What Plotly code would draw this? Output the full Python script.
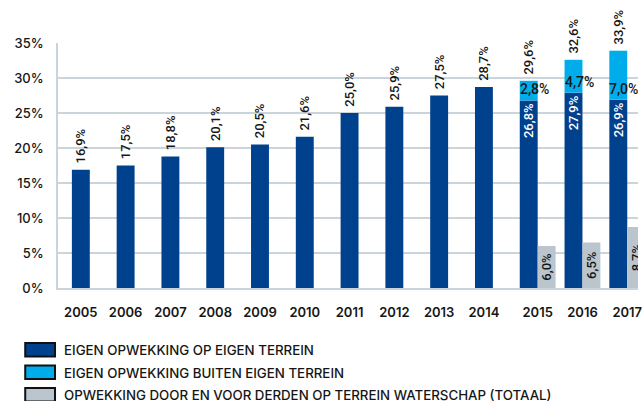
import plotly.graph_objects as go

years = [2005, 2006, 2007, 2008, 2009, 2010, 2011, 2012, 2013, 2014, 2015, 2016, 2017]
eigen_op = [16.9, 17.5, 18.8, 20.1, 20.5, 21.6, 25.0, 25.9, 27.5, 28.7, 26.8, 27.9, 26.9]
split_years = [2015, 2016, 2017]
eigen_buiten = [2.8, 4.7, 7.0]
totaal = [29.6, 32.6, 33.9]
derden = [6.0, 6.5, 8.7]
series_names = [
    "EIGEN OPWEKKING OP EIGEN TERREIN",
    "EIGEN OPWEKKING BUITEN EIGEN TERREIN",
    "OPWEKKING DOOR EN VOOR DERDEN OP TERREIN WATERSCHAP (TOTAAL)",
]
y_ticks = [0, 5, 10, 15, 20, 25, 30, 35]

DARK = "#00418E"
LIGHT = "#00ADEA"
GRAY = "#BAC5CD"
GRID = "#CCD4DB"
TXT = "#161616"
LABEL_FONT = "Roboto"
AXIS_FONT = "Inter"
NB = "\u00a0"

def pct(v):
    return f"{v:.1f}%".replace(".", ",")

BW = 0.4
fig = go.Figure()

split_set = set(split_years)
dark_pos = ["inside" if y in split_set else "outside" for y in years]
dark_text = [pct(v) if y in split_set else NB + pct(v) for y, v in zip(years, eigen_op)]
fig.add_trace(go.Bar(
    x=years, y=eigen_op, width=BW, offset=-BW / 2,
    marker=dict(color=DARK, line=dict(width=0)),
    text=dark_text, textposition=dark_pos, textangle=-90,
    insidetextanchor="end", constraintext="none", cliponaxis=False,
    insidetextfont=dict(family=LABEL_FONT, size=13, color="white", weight=500),
    outsidetextfont=dict(family=LABEL_FONT, size=13, color=TXT, weight=500),
    name=series_names[0], showlegend=False, hoverinfo="skip",
))
fig.add_trace(go.Bar(
    x=split_years, y=eigen_buiten, base=[eigen_op[years.index(y)] for y in split_years],
    width=BW, offset=-BW / 2,
    marker=dict(color=LIGHT, line=dict(width=0)),
    text=[NB + pct(v) for v in totaal], textposition="outside", textangle=-90,
    constraintext="none", cliponaxis=False,
    outsidetextfont=dict(family=LABEL_FONT, size=13, color=TXT, weight=500),
    name=series_names[1], showlegend=False, hoverinfo="skip",
))
fig.add_trace(go.Bar(
    x=split_years, y=derden, width=BW, offset=BW / 2,
    marker=dict(color=GRAY, line=dict(width=0)),
    text=[pct(v) for v in derden], textposition="inside", textangle=-90,
    insidetextanchor="middle", constraintext="none", cliponaxis=True,
    insidetextfont=dict(family=LABEL_FONT, size=13, color=TXT, weight=500),
    name=series_names[2], showlegend=False, hoverinfo="skip",
))

# labels for the light-blue segments
for yr, v in zip(split_years, eigen_buiten):
    fig.add_annotation(
        x=yr - BW / 2, y=eigen_op[years.index(yr)], xref="x", yref="y",
        text=pct(v), showarrow=False, xanchor="left", yanchor="bottom", yshift=1,
        xshift=-2,
        font=dict(family=LABEL_FONT, size=14, color=TXT, weight=500),
    )

# x tick positions: centred on the bar group
tickvals = [y + (BW / 2 if y in split_set else 0) for y in years]

W, H = 642, 401
L, R, T, B = 58, 0, 43, 113
fig.update_layout(
    width=W, height=H,
    margin=dict(l=L, r=R, t=T, b=B),
    paper_bgcolor="white", plot_bgcolor="white",
    barmode="overlay",
    showlegend=False,
    xaxis=dict(
        range=[2004.49, 2017.44], tickvals=tickvals, ticktext=[str(y) for y in years],
        showgrid=False, showline=True, linecolor=GRID, linewidth=1.5,
        ticks="", ticklabelstandoff=12, zeroline=False, ticklabeloverflow="allow",
        tickfont=dict(family=AXIS_FONT, size=13, color=TXT, weight=600),
    ),
    yaxis=dict(
        range=[0, 35], tickvals=y_ticks, ticktext=[f"{v}%" for v in y_ticks],
        showgrid=True, gridcolor=GRID, gridwidth=1.5,
        showline=True, linecolor=GRID, linewidth=1.5, zeroline=False,
        ticks="", ticklabelstandoff=10,
        tickfont=dict(family=AXIS_FONT, size=13, color=TXT, weight=500),
    ),
)

# custom legend (swatches + text)
plot_w = W - L - R
plot_h = H - T - B
def px_x(p):
    return (p - L) / plot_w
def px_y(p):
    return (H - B - p) / plot_h

legend_colors = [DARK, LIGHT, GRAY]
row_tops = [342, 364.5, 387]
for name, col, top in zip(series_names, legend_colors, row_tops):
    fig.add_shape(
        type="rect", xref="paper", yref="paper",
        x0=px_x(25), x1=px_x(55), y0=px_y(top + 1), y1=px_y(top + 14.5),
        fillcolor=col, line=dict(color="#111111", width=2), layer="above",
    )
    fig.add_annotation(
        xref="paper", yref="paper", x=px_x(62), y=px_y(top + 8),
        text=name, showarrow=False, xanchor="left", yanchor="middle",
        font=dict(family=AXIS_FONT, size=13.3, color=TXT, weight=500),
    )

fig.write_html(
    "out.html",
    config={"displayModeBar": False},
    post_script=(
        "document.documentElement.style.margin='0';"
        "document.body.style.margin='0';"
        "document.documentElement.style.overflow='hidden';"
        "document.body.style.overflow='hidden';"
    ),
)
